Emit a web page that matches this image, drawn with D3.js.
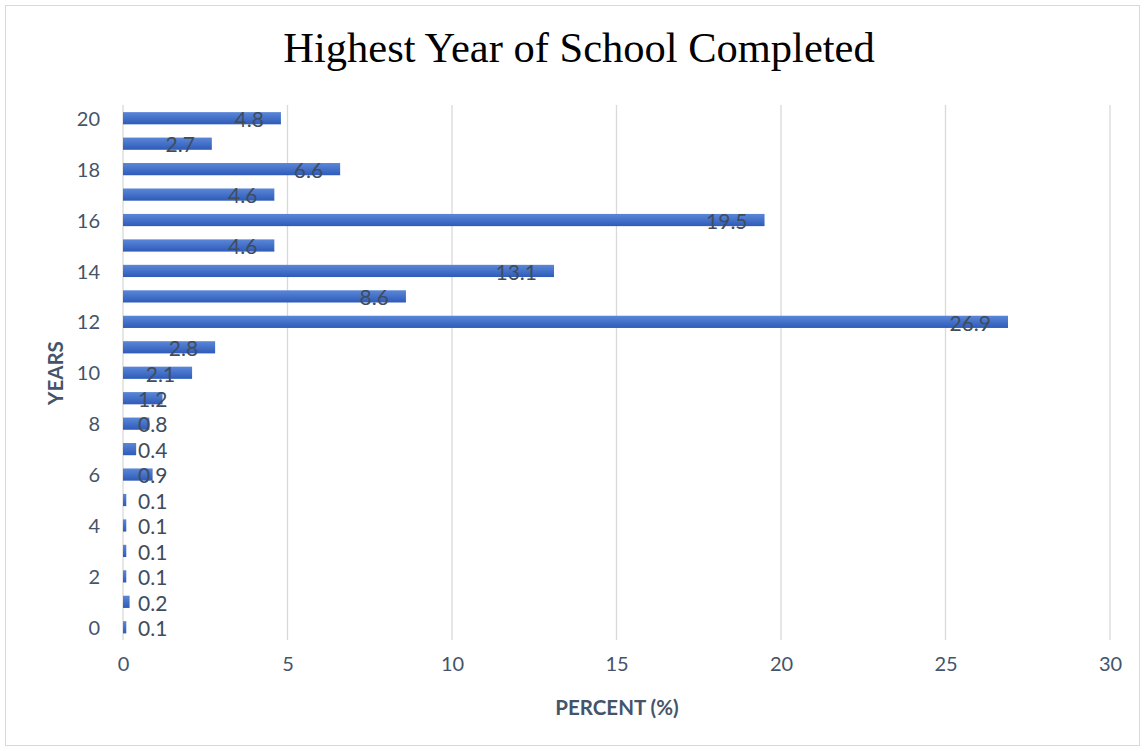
<!DOCTYPE html>
<html><head><meta charset="utf-8">
<script src="https://cdn.jsdelivr.net/npm/d3@7"></script>
<style>body{margin:0;background:#fff}</style>
</head><body>
<script>
const years = [0,1,2,3,4,5,6,7,8,9,10,11,12,13,14,15,16,17,18,19,20];
const percents = [0.1,0.2,0.1,0.1,0.1,0.1,0.9,0.4,0.8,1.2,2.1,2.8,26.9,8.6,13.1,4.6,19.5,4.6,6.6,2.7,4.8];
const xTicks = [0,5,10,15,20,25,30];
const yTickLabels = [0,2,4,6,8,10,12,14,16,18,20];
const title = "Highest Year of School Completed";
const xTitle = "PERCENT (%)";
const yTitle = "YEARS";

const W = 1144, H = 751;
const svg = d3.select("body").append("svg").attr("width", W).attr("height", H);
const defs = svg.append("defs");
const grad = defs.append("linearGradient").attr("id","bg").attr("x1",0).attr("y1",0).attr("x2",0).attr("y2",1);
grad.append("stop").attr("offset","0%").attr("stop-color","#5b87d8");
grad.append("stop").attr("offset","100%").attr("stop-color","#2e5bb9");

svg.append("rect").attr("x",5.5).attr("y",5.5).attr("width",1134).attr("height",740)
  .attr("fill","#fff").attr("stroke","#d9d9d9").attr("stroke-width",1);

const x = d3.scaleLinear().domain([0,30]).range([123,1110]);
const y = d3.scaleBand().domain(years).range([640,105.5]).paddingInner(0.52).paddingOuter(0.26);

const textCol = "#44546a";
const font = "Lato, 'Open Sans', sans-serif";

// gridlines
svg.append("g").selectAll("line").data(xTicks).join("line")
  .attr("x1",d=>x(d)).attr("x2",d=>x(d)).attr("y1",105).attr("y2",640)
  .attr("stroke","#d9d9d9").attr("stroke-width",1.3);

// x axis labels
const xAxis = d3.axisBottom(x).tickValues(xTicks).tickSize(0).tickPadding(0);
const gx = svg.append("g").attr("transform","translate(0,657)").call(xAxis);
gx.select(".domain").remove();
gx.selectAll("text").attr("font-family",font).attr("font-size",20).attr("fill",textCol).attr("dy","0.71em");

// y axis labels
const yAxis = d3.axisLeft(y).tickValues(yTickLabels).tickSize(0).tickPadding(0);
const gy = svg.append("g").attr("transform","translate(100,0)").call(yAxis);
gy.select(".domain").remove();
gy.selectAll("text").attr("font-family",font).attr("font-size",20).attr("fill",textCol).attr("dy","0.38em");

// bars
svg.append("g").selectAll("rect").data(years).join("rect")
  .attr("x",x(0)).attr("y",d=>y(d)).attr("height",y.bandwidth())
  .attr("width",(d,i)=>x(percents[i])-x(0)).attr("fill","url(#bg)");

// data labels
const lab = svg.append("g").selectAll("text").data(years).join("text")
  .attr("font-family",font).attr("font-size",21).attr("fill","#404c5e")
  .attr("y",d=>y(d)+y.bandwidth()/2).attr("dy","0.42em")
  .text((d,i)=>percents[i]);
lab.each(function(d,i){
  const w = this.getComputedTextLength();
  let right = x(percents[i]) - 17;
  let left = right - w;
  if (left < 138) left = 138;
  d3.select(this).attr("x",left);
});

// title
svg.append("text").attr("x",579).attr("y",62).attr("text-anchor","middle")
  .attr("font-family","'Liberation Serif', 'Times New Roman', serif").attr("font-size",42.5).attr("fill","#000")
  .text(title);

// axis titles
svg.append("text").attr("x",617).attr("y",715).attr("text-anchor","middle")
  .attr("font-family",font).attr("font-weight","bold").attr("font-size",20.5).attr("fill",textCol).text(xTitle);
svg.append("text").attr("transform","translate(63,373) rotate(-90)").attr("text-anchor","middle")
  .attr("font-family",font).attr("font-weight","bold").attr("font-size",20.5).attr("fill",textCol).text(yTitle);
</script>
</body></html>
